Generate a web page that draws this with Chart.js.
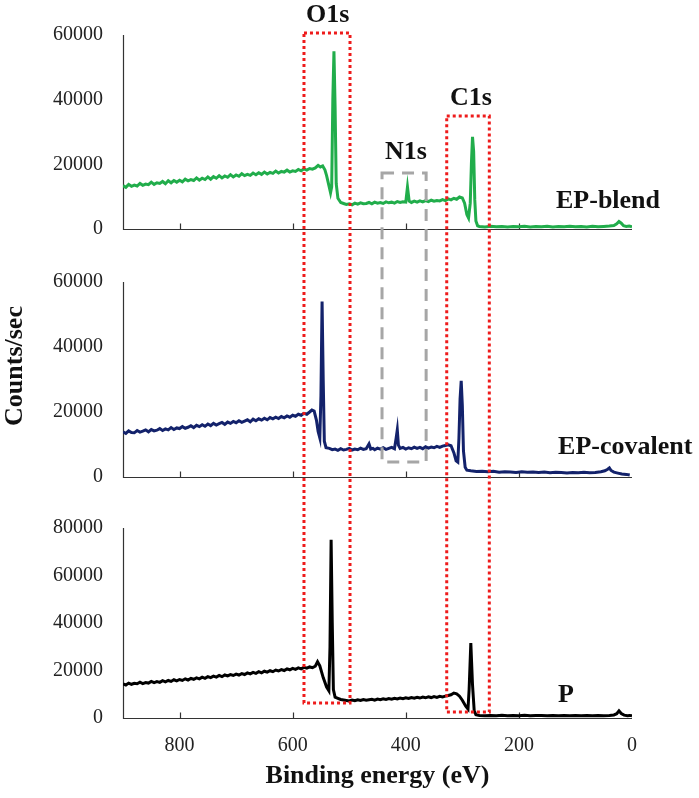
<!DOCTYPE html>
<html>
<head>
<meta charset="utf-8">
<script src="https://cdn.jsdelivr.net/npm/chart.js@4"></script>
<style>
  html, body { margin: 0; padding: 0; background: #fff; }
  canvas { display: block; }
</style>
</head>
<body>
<canvas id="xps-chart" width="699" height="798"></canvas>
<script>
// tick labels
const xTicks = [800, 600, 400, 200, 0];
const yTicks60k = [0, 20000, 40000, 60000];
const yTicks80k = [0, 20000, 40000, 60000, 80000];

// EP-blend (top, green)
const blendEnergy = [
  900, 895, 890, 885, 880, 875, 870, 865, 860, 855, 850, 845, 840, 835, 830, 825, 820, 815, 810, 805,
  800, 795, 790, 785, 780, 775, 770, 765, 760, 755, 750, 745, 740, 735, 730, 725, 720, 715, 710, 705,
  700, 695, 690, 685, 680, 675, 670, 665, 660, 655, 650, 645, 640, 635, 630, 625, 620, 615, 610, 605,
  600, 595, 590, 585, 580, 575, 570, 565, 560,
  555, 551, 547, 543, 540, 536, 533, 531, 529, 527, 525, 523, 520, 515,
  510, 505, 500, 495, 490, 485, 480, 475, 470, 465, 460, 455, 450, 445, 440, 435, 430, 425, 420, 415,
  410, 405, 400, 397, 394, 390, 385, 380, 375, 370, 365, 360, 355, 350, 345, 340, 335, 330, 325, 320,
  315, 310, 305, 300, 296, 292, 289, 286, 284, 282, 280, 278, 276, 273,
  270, 260, 250, 240, 230, 220, 210, 200, 190, 180, 170, 160, 150, 140, 130, 120, 110, 100, 90, 80,
  70, 60, 50, 40, 32, 27, 23, 19, 15, 10, 5, 0];
const blendCounts = [
  13400, 12900, 13800, 13200, 13600, 13300, 14100, 13500, 13900, 13700, 14500, 13800, 14300, 14100, 14700, 14000, 14900, 14300, 15000, 14500,
  15100, 14600, 15400, 14900, 15300, 15000, 15800, 15100, 15700, 15300, 16100, 15400, 16200, 15700, 16500, 15800, 16400, 16000, 16800, 16100,
  16700, 16300, 17100, 16500, 16900, 16600, 17300, 16800, 17400, 16900, 17600, 17000, 17500, 17200, 17900, 17300, 17800, 17600, 18200, 17600,
  18000, 17800, 18400, 18000, 18600, 18200, 18700, 18500, 18900,
  19700, 19200, 19500, 18300, 16500, 13500, 11200, 13000, 40000, 55000, 38000, 14000, 9500, 8200,
  7900, 7600, 7800, 7500, 8000, 7700, 8100, 7800, 7900, 8200, 7800, 8300, 8000, 8200, 7900, 8400, 8100, 8300, 8000, 8500,
  8200, 8400, 8300, 13000, 8600, 8200, 8600, 8300, 8700, 8400, 8800, 8500, 8900, 8600, 8800, 8700, 9100, 8800, 9300, 9000,
  9500, 9200, 9900, 9600, 8000, 4500, 3400, 8000, 20000, 28500, 24000, 9000, 2500, 1000,
  800, 650, 850, 700, 800, 600, 750, 700, 850, 650, 800, 700, 850, 650, 800, 700, 850, 700, 800, 650,
  850, 700, 800, 900, 1100, 1600, 2300, 1800, 1000, 800, 900, 700];

// EP-covalent (middle, navy)
const covalentEnergy = [
  900, 895, 890, 885, 880, 875, 870, 865, 860, 855, 850, 845, 840, 835, 830, 825, 820, 815, 810, 805,
  800, 795, 790, 785, 780, 775, 770, 765, 760, 755, 750, 745, 740, 735, 730, 725, 720, 715, 710, 705,
  700, 695, 690, 685, 680, 675, 670, 665, 660, 655, 650, 645, 640, 635, 630, 625, 620, 615, 610, 605,
  600, 595, 590, 585, 580, 575, 570,
  566, 562, 558, 555, 552, 550, 548, 546, 544, 541,
  535, 530, 525, 520, 515, 510, 505, 500, 495, 490, 485, 480, 475, 470, 465, 462, 458, 455, 450, 445,
  440, 435, 430, 425, 420, 417, 415, 413, 410, 405, 400, 395, 390, 385, 380, 375, 370, 365, 360, 355,
  350, 345, 340, 335, 330, 325, 320,
  315, 311, 308, 306, 304, 302, 300, 298, 295, 292,
  285, 275, 265, 255, 245, 235, 225, 215, 205, 195, 185, 175, 165, 155, 145, 135, 125, 115, 105, 95,
  85, 75, 65, 55, 48, 43, 40, 37, 32, 25, 18, 10, 4];
const covalentCounts = [
  13900, 13400, 14200, 13700, 13600, 14300, 13800, 14100, 14500, 13900, 14600, 14200, 14400, 14900, 14300, 14800, 14500, 15200, 14600, 15100,
  14900, 15500, 15000, 15300, 15800, 15200, 15900, 15500, 16100, 15600, 16300, 15800, 16500, 16000, 16400, 16800, 16200, 16900, 16500, 17100,
  16700, 17300, 16800, 17200, 17600, 17000, 17800, 17300, 17900, 17500, 18100, 17600, 18300, 17900, 18400, 18000, 18600, 18200, 18800, 18400,
  19000, 18700, 19300, 19000, 19600, 19300, 20000,
  20600, 20300, 17500, 14000, 12000, 25000, 54000, 30000, 11000, 9000,
  8800, 8400, 8600, 8200, 8700, 8300, 8500, 8800, 8300, 8600, 8400, 8900, 8500, 8700, 10200, 8600, 8800, 8400, 8900, 8600,
  9000, 8500, 8800, 9100, 8700, 12000, 14500, 9800, 8800, 9100, 8600, 9000, 8700, 9200, 8800, 9100, 8700, 9300, 8900, 9200,
  9000, 9400, 9100, 9500, 9700, 9900, 9600,
  7500, 5000, 4600, 12000, 24000, 29600, 22000, 8000, 3000, 2100,
  1900, 1700, 1800, 1600, 1750, 1500, 1650, 1550, 1400, 1600, 1450, 1550, 1350, 1500, 1300, 1450, 1350, 1250, 1400, 1300,
  1450, 1300, 1400, 1600, 1900, 2400, 2800, 2000, 1500, 1200, 900, 800, 600];

// P (bottom, black)
const pristineEnergy = [
  900, 895, 890, 885, 880, 875, 870, 865, 860, 855, 850, 845, 840, 835, 830, 825, 820, 815, 810, 805,
  800, 795, 790, 785, 780, 775, 770, 765, 760, 755, 750, 745, 740, 735, 730, 725, 720, 715, 710, 705,
  700, 695, 690, 685, 680, 675, 670, 665, 660, 655, 650, 645, 640, 635, 630, 625, 620, 615, 610, 605,
  600, 595, 590, 585, 580, 575, 570, 565,
  560, 556, 552, 546, 540, 536, 534, 532, 530, 528, 525,
  520, 515, 510, 505, 500, 495, 490, 485, 480, 475, 470, 465, 460, 455, 450, 445, 440, 435, 430, 425,
  420, 415, 410, 405, 400, 395, 390, 385, 380, 375, 370, 365, 360, 355, 350, 345, 340, 335, 330, 325,
  320, 315, 310, 305,
  300, 294, 290, 288, 285, 282, 279, 276,
  270, 260, 250, 240, 230, 220, 210, 200, 190, 180, 170, 160, 150, 140, 130, 120, 110, 100, 90, 80,
  70, 60, 50, 40, 32, 27, 23, 19, 14, 8, 4, 0];
const pristineCounts = [
  14300, 13900, 14700, 14200, 14600, 14400, 15100, 14500, 14900, 14700, 15400, 14900, 15300, 15000, 15700, 15200, 15800, 15400, 16100, 15600,
  16200, 15800, 16500, 16000, 16700, 16300, 16900, 16500, 17200, 16700, 17400, 17000, 17600, 17200, 17900, 17400, 18100, 17700, 18300, 17900,
  18500, 18100, 18700, 18300, 19000, 18600, 19200, 18800, 19500, 19000, 19700, 19300, 19900, 19500, 20200, 19800, 20400, 20000, 20700, 20300,
  20900, 20500, 21100, 20700, 21300, 21000, 21500, 21200,
  21800, 23700, 22000, 17000, 13000, 11500, 30000, 75000, 40000, 12000, 8800,
  8300, 7800, 7600, 7400, 7200, 7600, 7300, 7700, 7400, 7800, 7500, 7700, 7900, 7500, 8000, 7700, 8100, 7800, 8200, 7900,
  8300, 8000, 8400, 8100, 8500, 8200, 8600, 8300, 8700, 8400, 8800, 8500, 8900, 8600, 9000, 8700, 9100, 8900, 9200, 9500,
  9800, 10500, 10200, 9200,
  7500, 5000, 3800, 12000, 31600, 14000, 3000, 1400,
  1100, 950, 1100, 1000, 1200, 950, 1050, 1000, 1150, 950, 1050, 1100, 950, 1100, 1000, 1050, 950, 1100, 1000, 1050,
  950, 1100, 1000, 1100, 1300, 1800, 3000, 1900, 1200, 1000, 1100, 950];

const toPoints = (xs, ys) => xs.map((x, i) => ({ x: x, y: ys[i] }));

const serif = 'Liberation Serif';

// highlight boxes: x range in eV, top/bottom as [axis, value]
const boxes = [
  { from: 580, to: 498.6, top: ['y1', 60620], bottom: ['y3', 6316], color: '#ee1b1b', dash: [3, 3] },
  { from: 327.6, to: 252.3, top: ['y1', 34950], bottom: ['y3', 2526], color: '#ee1b1b', dash: [3, 3] },
  { from: 442, to: 364, top: ['y1', 17320], bottom: ['y2', 4615], color: '#a6a6a6', dash: [12, 8] }
];

const labels = [
  { text: 'O1s', x: 538, axis: 'y1', y: 66030 },
  { text: 'C1s', x: 284.7, axis: 'y1', y: 40360 },
  { text: 'N1s', x: 399.6, axis: 'y1', y: 23660 },
  { text: 'EP-blend', x: 42.4, axis: 'y1', y: 8660 },
  { text: 'EP-covalent', x: 12, axis: 'y2', y: 9230 },
  { text: 'P', x: 117, axis: 'y3', y: 9680 }
];

const panelTops = { y1: 60000, y2: 60000, y3: 80000 };

const panelFrames = {
  id: 'panelFrames',
  beforeDatasetsDraw(chart) {
    const ctx = chart.ctx;
    const xs = chart.scales.x;
    ctx.save();
    ctx.strokeStyle = '#333';
    ctx.lineWidth = 1.2;
    Object.keys(panelTops).forEach(id => {
      const ys = chart.scales[id];
      const y0 = Math.round(ys.getPixelForValue(0)) + 0.5;
      const yTop = ys.getPixelForValue(panelTops[id]);
      const left = Math.round(xs.left) + 0.5;
      ctx.beginPath();
      ctx.moveTo(left, yTop);
      ctx.lineTo(left, y0);
      ctx.lineTo(xs.right, y0);
      xTicks.forEach(v => {
        if (v === 0) return;
        const px = Math.round(xs.getPixelForValue(v)) + 0.5;
        ctx.moveTo(px, y0);
        ctx.lineTo(px, y0 - 6);
      });
      ctx.stroke();
    });
    ctx.restore();
  },
  afterDraw(chart) {
    const ctx = chart.ctx;
    const xs = chart.scales.x;
    ctx.save();
    boxes.forEach(b => {
      const x1 = xs.getPixelForValue(b.from);
      const x2 = xs.getPixelForValue(b.to);
      const y1 = chart.scales[b.top[0]].getPixelForValue(b.top[1]);
      const y2 = chart.scales[b.bottom[0]].getPixelForValue(b.bottom[1]);
      ctx.strokeStyle = b.color;
      ctx.lineWidth = 3;
      ctx.setLineDash(b.dash);
      ctx.strokeRect(x1, y1, x2 - x1, y2 - y1);
    });
    ctx.setLineDash([]);
    ctx.fillStyle = '#111';
    ctx.textAlign = 'center';
    ctx.textBaseline = 'middle';
    ctx.font = 'bold 26px "' + serif + '"';
    labels.forEach(l => {
      ctx.fillText(l.text, xs.getPixelForValue(l.x), chart.scales[l.axis].getPixelForValue(l.y));
    });
    // shared y title
    ctx.translate(15, 366);
    ctx.rotate(-Math.PI / 2);
    ctx.fillText('Counts/sec', 0, 0);
    ctx.restore();
  }
};

function panelAxis(max, ticks, weight, order) {
  return {
    type: 'linear',
    position: 'left',
    stack: 'panels',
    stackWeight: weight,
    weight: order,
    min: 0,
    max: max,
    grid: { display: false, drawTicks: false },
    border: { display: false },
    afterBuildTicks: s => { s.ticks = ticks.map(v => ({ value: v })); },
    afterFit: s => { s.width = 80; },
    ticks: {
      padding: 20,
      autoSkip: false,
      color: '#222',
      font: { family: serif, size: 20 },
      callback: v => String(v)
    }
  };
}

document.addEventListener('DOMContentLoaded', () => {
  const ctx = document.getElementById('xps-chart').getContext('2d');
  new Chart(ctx, {
    type: 'line',
    data: {
      datasets: [
        {
          label: 'EP-blend',
          data: toPoints(blendEnergy, blendCounts),
          yAxisID: 'y1',
          borderColor: '#21ad4b',
        },
        {
          label: 'EP-covalent',
          data: toPoints(covalentEnergy, covalentCounts),
          yAxisID: 'y2',
          borderColor: '#13226b',
        },
        {
          label: 'P',
          data: toPoints(pristineEnergy, pristineCounts),
          yAxisID: 'y3',
          borderColor: '#000000',
        },
      ],
    },
    options: {
      responsive: false,
      animation: false,
      layout: { padding: { left: 43, right: 67, top: 35, bottom: 0 } },
      datasets: {
        line: { borderWidth: 3, pointRadius: 0, tension: 0, fill: false }
      },
      plugins: {
        legend: { display: false },
        tooltip: { enabled: false }
      },
      scales: {
        x: {
          type: 'linear',
          position: 'bottom',
          reverse: true,
          min: 0,
          max: 900,
          grid: { display: false, drawTicks: false },
          border: { display: false },
          afterBuildTicks: s => { s.ticks = xTicks.map(v => ({ value: v })); },
          afterFit: s => { s.height = 80; },
          ticks: {
            padding: 16,
            autoSkip: false,
            maxRotation: 0,
            color: '#222',
            font: { family: serif, size: 20 },
            callback: v => String(v)
          },
          title: {
            display: true,
            text: 'Binding energy (eV)',
            color: '#111',
            font: { family: serif, size: 26, weight: 'bold' },
            padding: { top: 0, bottom: 6 }
          }
        },
        y1: panelAxis(60000, yTicks60k, 194, 3),
        y2: panelAxis(76308, yTicks60k, 248, 2),
        y3: panelAxis(101474, yTicks80k, 241, 1),
      },
    },
    plugins: [panelFrames],
  });
});
</script>
</body>
</html>
